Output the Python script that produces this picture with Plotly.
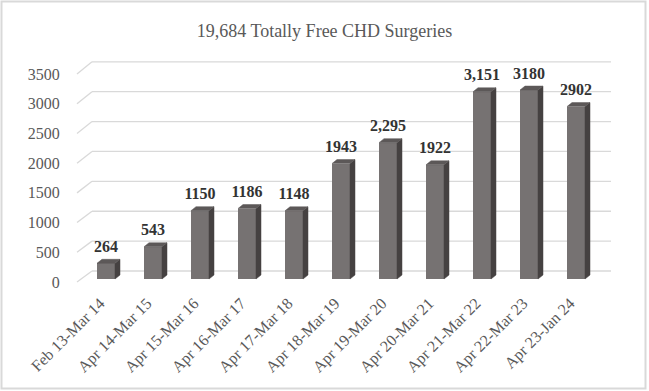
import plotly.graph_objects as go

# ---- data ----
categories = ["Feb 13-Mar 14", "Apr 14-Mar 15", "Apr 15-Mar 16", "Apr 16-Mar 17",
              "Apr 17-Mar 18", "Apr 18-Mar 19", "Apr 19-Mar 20", "Apr 20-Mar 21",
              "Apr 21-Mar 22", "Apr 22-Mar 23", "Apr 23-Jan 24"]
values = [264, 543, 1150, 1186, 1148, 1943, 2295, 1922, 3151, 3180, 2902]
value_labels = ["264", "543", "1150", "1186", "1148", "1943", "2,295", "1922",
                "3,151", "3180", "2902"]
y_ticks = [0, 500, 1000, 1500, 2000, 2500, 3000, 3500]
y_tick_labels = ["0", "500", "1000", "1500", "2000", "2500", "3000", "3500"]
title_text = "19,684 Totally Free CHD Surgeries"

# ---- layout geometry (pixels) ----
W, H = 649, 391
L, R, T, B = 70, 29, 55, 101
plot_w = W - L - R
plot_h = H - T - B
cat_px = 47.0           # pixels per category
x0_px = 106.0           # pixel of first bar centre
upx = 16.83             # value units per pixel
base_px = 279.0         # pixel of value 0 at bar front

x_range = [(L - x0_px) / cat_px, (L + plot_w - x0_px) / cat_px]
y_range = [(base_px - (T + plot_h)) * upx, (base_px - T) * upx]
label_shift = 6.0 / cat_px
x2_range = [x_range[0] + label_shift, x_range[1] + label_shift]

bar_w = 18.0 / cat_px
dx = 5.0 / cat_px        # depth offset (x)
dy = 4.0 * upx           # depth offset (y)

front_shift = -3.0 * upx     # front floor level relative to bar scale
back_shift = 8.0 * upx       # back wall relative to bar scale
x_front = (77 - x0_px) / cat_px
x_back_l = (92 - x0_px) / cat_px
x_back_r = (611 - x0_px) / cat_px

idx = list(range(len(categories)))

fig = go.Figure()

# gridlines on back wall with diagonal floor edge (drawn below traces)
for v in y_ticks:
    yb = v * 1.006 + back_shift
    fig.add_shape(type="line", xref="x", yref="y", layer="below",
                  x0=x_front, y0=v + front_shift, x1=x_back_l, y1=yb,
                  line=dict(color="#d9d9d9", width=1.3))
    fig.add_shape(type="line", xref="x", yref="y", layer="below",
                  x0=x_back_l, y0=yb, x1=x_back_r, y1=yb,
                  line=dict(color="#d9d9d9", width=1.3))

# front faces
fig.add_trace(go.Bar(x=idx, y=values, width=bar_w,
                     marker=dict(color="#767272", line=dict(width=0)),
                     hoverinfo="skip", showlegend=False))

# side faces
sx, sy = [], []
for i, v in zip(idx, values):
    xr = i + bar_w / 2
    sx += [xr, xr + dx, xr + dx, xr, xr, None]
    sy += [0, dy, v + dy, v, 0, None]
fig.add_trace(go.Scatter(x=sx, y=sy, mode="lines", fill="toself",
                         fillcolor="#454141", line=dict(color="#454141", width=0.5),
                         hoverinfo="skip", showlegend=False))

# top faces
tx, ty = [], []
for i, v in zip(idx, values):
    xl = i - bar_w / 2
    xr = i + bar_w / 2
    tx += [xl, xr, xr + dx, xl + dx, xl, None]
    ty += [v, v, v + dy, v + dy, v, None]
fig.add_trace(go.Scatter(x=tx, y=ty, mode="lines", fill="toself",
                         fillcolor="#5c5858", line=dict(color="#5c5858", width=0.5),
                         hoverinfo="skip", showlegend=False))

# value labels
fig.add_trace(go.Scatter(x=idx, y=[v + 15.5 * upx for v in values],
                         mode="text", text=value_labels,
                         textposition="middle center",
                         textfont=dict(family="Liberation Serif", size=16,
                                       color="#333333", weight="bold"),
                         hoverinfo="skip", showlegend=False))

# invisible trace carrying the category-label axis
fig.add_trace(go.Scatter(x=idx, y=[None] * len(idx), xaxis="x2", mode="markers",
                         marker=dict(opacity=0), hoverinfo="skip", showlegend=False))

# outer border
px2x = lambda p: (p - L) / plot_w
py2y = lambda p: (T + plot_h - p) / plot_h
fig.add_shape(type="rect", xref="paper", yref="paper",
              x0=px2x(1.5), x1=px2x(645.5), y0=py2y(388.5), y1=py2y(1.5),
              line=dict(color="#d9d9d9", width=2), layer="below")

fig.update_layout(
    width=W, height=H,
    margin=dict(l=L, r=R, t=T, b=B),
    paper_bgcolor="white", plot_bgcolor="white",
    title=dict(text=title_text, x=0.5, xref="container", xanchor="center",
               y=1 - 31 / H, yref="container", yanchor="middle",
               font=dict(family="Liberation Serif", size=18, color="#595959")),
    xaxis=dict(range=x_range, showticklabels=False, showgrid=False,
               zeroline=False, showline=False, ticks=""),
    xaxis2=dict(range=x2_range, overlaying="x", anchor="y", side="bottom",
                tickmode="array", tickvals=idx, ticktext=categories,
                tickangle=-45, showgrid=False, zeroline=False, showline=False,
                ticks="", tickfont=dict(family="Liberation Serif", size=16, color="#595959")),
    yaxis=dict(range=y_range, tickmode="array",
               tickvals=[v + front_shift for v in y_ticks], ticktext=y_tick_labels,
               showgrid=False, zeroline=False, showline=False,
               ticks="outside", ticklen=6, tickcolor="rgba(0,0,0,0)",
               tickfont=dict(family="Liberation Serif", size=16, color="#595959")),
    bargap=0, hovermode=False,
)

fig.write_html("out.html", config={"displayModeBar": False},
               post_script="document.body.style.margin='0';document.body.style.overflow='hidden';")
